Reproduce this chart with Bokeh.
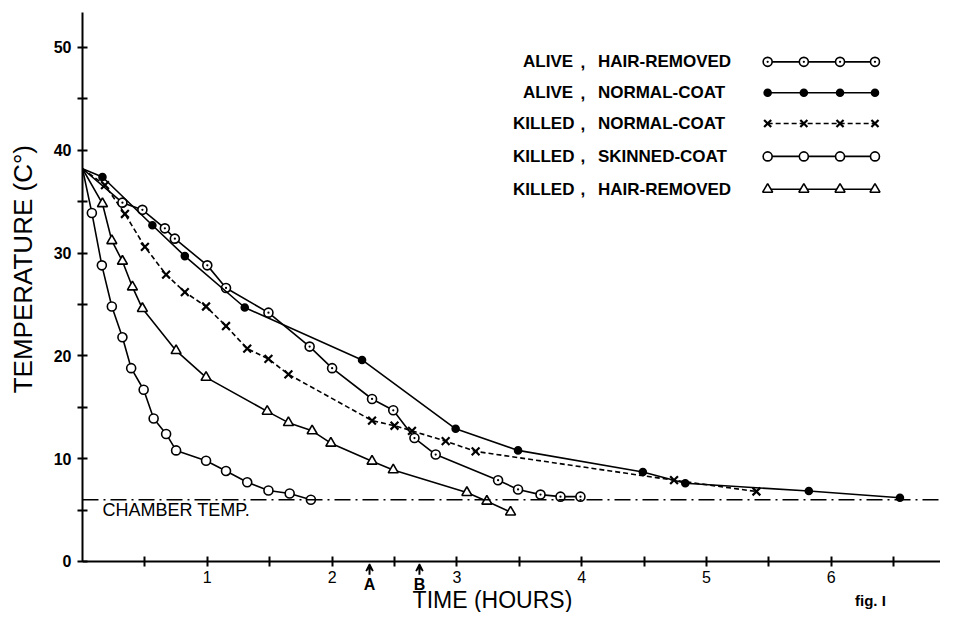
import math
from bokeh.plotting import figure
from bokeh.models import FixedTicker, Label, Span, Arrow, VeeHead, Range1d
from bokeh.embed import file_html
from bokeh.resources import INLINE

# ---------------- data ----------------
START_T = 0.0
START_TEMP = 38.2
CHAMBER_TEMP = 6.0

# ALIVE, HAIR-REMOVED (circle with dot)
alive_hair_t = [0.32, 0.48, 0.66, 0.74, 1.00, 1.15, 1.49, 1.82, 2.00, 2.32, 2.49, 2.66, 2.83, 3.33, 3.49, 3.67, 3.83, 3.99]
alive_hair_T = [34.9, 34.2, 32.4, 31.4, 28.8, 26.6, 24.2, 20.9, 18.8, 15.8, 14.7, 12.0, 10.4, 7.9, 7.0, 6.5, 6.3, 6.3]

# ALIVE, NORMAL-COAT (filled dot)
alive_norm_t = [0.16, 0.56, 0.82, 1.30, 2.24, 2.99, 3.49, 4.49, 4.83, 5.82, 6.55]
alive_norm_T = [37.4, 32.7, 29.7, 24.7, 19.6, 12.9, 10.8, 8.7, 7.6, 6.85, 6.2]

# KILLED, NORMAL-COAT (x, dashed)
killed_norm_t = [0.18, 0.34, 0.50, 0.67, 0.82, 0.99, 1.15, 1.32, 1.49, 1.65, 2.32, 2.50, 2.64, 2.91, 3.15, 4.74, 5.40]
killed_norm_T = [36.6, 33.8, 30.6, 27.9, 26.2, 24.8, 22.9, 20.7, 19.7, 18.2, 13.7, 13.2, 12.7, 11.7, 10.7, 7.9, 6.8]

# KILLED, SKINNED-COAT (open circle)
killed_skin_t = [0.075, 0.155, 0.235, 0.32, 0.39, 0.49, 0.57, 0.67, 0.75, 0.99, 1.15, 1.32, 1.49, 1.66, 1.83]
killed_skin_T = [33.9, 28.8, 24.8, 21.8, 18.8, 16.7, 13.9, 12.4, 10.8, 9.8, 8.8, 7.7, 6.9, 6.6, 6.0]

# KILLED, HAIR-REMOVED (open triangle)
killed_hair_t = [0.16, 0.235, 0.32, 0.40, 0.48, 0.75, 0.99, 1.48, 1.65, 1.84, 1.99, 2.32, 2.49, 3.08, 3.24, 3.43]
killed_hair_T = [34.8, 31.2, 29.2, 26.7, 24.6, 20.5, 17.9, 14.6, 13.5, 12.7, 11.5, 9.75, 8.9, 6.7, 5.85, 4.8]

legend_first = ["ALIVE", "ALIVE", "KILLED", "KILLED", "KILLED"]
legend_second = ["HAIR-REMOVED", "NORMAL-COAT", "NORMAL-COAT", "SKINNED-COAT", "HAIR-REMOVED"]

x_major = [1, 2, 3, 4, 5, 6]
x_minor = [0.5, 1.5, 2.5, 3.5, 4.5, 5.5, 6.5]
y_major = [0, 10, 20, 30, 40, 50]
y_minor = [5, 15, 25, 35, 45]

marks_AB = [("A", 2.30), ("B", 2.70)]

# ---------------- styles / layout ----------------
FONT = "Liberation Sans"
W, H = 940, 612
LEFT, TOP = 82, 12
X_END = 6.875
Y_END = 53.4
Y_START = -4.97          # frame reaches the bottom of the canvas; the x axis sits at y = 0

p = figure(width=W, height=H, output_backend="svg", toolbar_location=None,
           x_range=Range1d(0, X_END), y_range=Range1d(Y_START, Y_END),
           min_border_left=LEFT, min_border_right=0, min_border_top=TOP, min_border_bottom=0)
p.outline_line_color = None
p.xgrid.visible = False
p.ygrid.visible = False

for ax in (p.xaxis[0], p.yaxis[0]):
    ax.axis_line_width = 2
    ax.axis_line_color = "black"
    ax.major_tick_line_width = 2
    ax.minor_tick_line_width = 2
    ax.major_tick_in = 5
    ax.major_tick_out = 5
    ax.minor_tick_in = 5
    ax.minor_tick_out = 5
    ax.major_tick_line_color = "black"
    ax.minor_tick_line_color = "black"
    ax.major_label_text_color = "black"
    ax.major_label_text_font = FONT

p.xaxis.fixed_location = 0
p.yaxis.bounds = (0, Y_END)
p.xaxis.ticker = FixedTicker(ticks=x_major, minor_ticks=x_minor)
p.yaxis.ticker = FixedTicker(ticks=y_major, minor_ticks=y_minor)
p.yaxis.major_label_text_font_style = "bold"
p.yaxis.major_label_text_font_size = "16px"
p.yaxis.major_label_standoff = 6
p.xaxis.major_label_text_font_size = "16px"
p.xaxis.major_label_standoff = 5

# y axis title (leading no-break spaces shift the centred title upward)
p.yaxis.axis_label = "\u00a0" * 12 + "TEMPERATURE (C°)"
p.yaxis.axis_label_text_font = FONT
p.yaxis.axis_label_text_font_size = "26px"
p.yaxis.axis_label_text_font_style = "normal"
p.yaxis.axis_label_text_color = "black"
p.yaxis.axis_label_standoff = 13

TXT = dict(text_font=FONT, text_color="black")

# chamber temperature line
p.add_layout(Span(location=CHAMBER_TEMP, dimension="width", line_color="black",
                  line_width=1.3, line_dash="16 5 2 5"))
p.add_layout(Label(x=0.16, y=5.0, text="CHAMBER TEMP.", text_font_size="18px",
                   text_baseline="middle", text_align="left", **TXT))

LW = 1.6
MS = 9

def series(ts, Ts, marker, fill, dash="solid", size=MS, mlw=1.6):
    p.line([START_T] + ts, [START_TEMP] + Ts, line_color="black", line_width=LW, line_dash=dash)
    p.scatter(ts, Ts, marker=marker, size=size, line_color="black", fill_color=fill, line_width=mlw)

series(killed_skin_t, killed_skin_T, "circle", "white")
series(killed_hair_t, killed_hair_T, "triangle", "white", size=10)
series(killed_norm_t, killed_norm_T, "x", None, dash="5 3", size=11, mlw=2.2)
series(alive_hair_t, alive_hair_T, "circle_dot", "white")
series(alive_norm_t, alive_norm_T, "circle", "black", size=7)

# legend
LEG_Y = [48.6, 45.6, 42.6, 39.4, 36.2]
LEG_X = [5.49, 5.78, 6.07, 6.35]
LEG_FIRST_X = {"ALIVE": 3.53, "KILLED": 3.45}
leg_styles = [("circle_dot", "white", "solid", MS, 1.6), ("circle", "black", "solid", 7, 1.6),
              ("x", None, "5 3", 10, 2.2), ("circle", "white", "solid", MS, 1.6),
              ("triangle", "white", "solid", 10, 1.6)]
for i, (y, (mk, fill, dash, sz, mlw)) in enumerate(zip(LEG_Y, leg_styles)):
    p.line([LEG_X[0], LEG_X[-1]], [y, y], line_color="black", line_width=LW, line_dash=dash)
    p.scatter(LEG_X, [y] * 4, marker=mk, size=sz, line_color="black", fill_color=fill, line_width=mlw)
    p.add_layout(Label(x=LEG_FIRST_X[legend_first[i]], y=y, text=legend_first[i],
                       text_font_size="17px", text_font_style="bold", text_baseline="middle", **TXT))
    p.add_layout(Label(x=3.99, y=y, text=",", text_font_size="17px",
                       text_font_style="bold", text_baseline="middle", **TXT))
    p.add_layout(Label(x=4.13, y=y, text=legend_second[i], text_font_size="17px",
                       text_font_style="bold", text_baseline="middle", **TXT))

# A / B arrows below the time axis
for name, t in marks_AB:
    p.add_layout(Arrow(end=VeeHead(size=7, line_color="black", fill_color="black", line_width=1.5),
                       x_start=t, y_start=-1.3, x_end=t, y_end=-0.25,
                       line_width=2, line_color="black"))
    p.add_layout(Label(x=t, y=-1.45, text=name, text_font_size="16px", text_font_style="bold",
                       text_align="center", text_baseline="top", **TXT))

# x axis title and figure label
p.add_layout(Label(x=3.285, y=-3.8, text="TIME (HOURS)", text_font_size="23px",
                   text_align="center", text_baseline="middle", **TXT))
p.add_layout(Label(x=6.19, y=-3.8, text="fig. I", text_font_size="15px", text_font_style="bold",
                   text_align="left", text_baseline="middle", **TXT))

open("out.html", "w").write(file_html(p, INLINE))
